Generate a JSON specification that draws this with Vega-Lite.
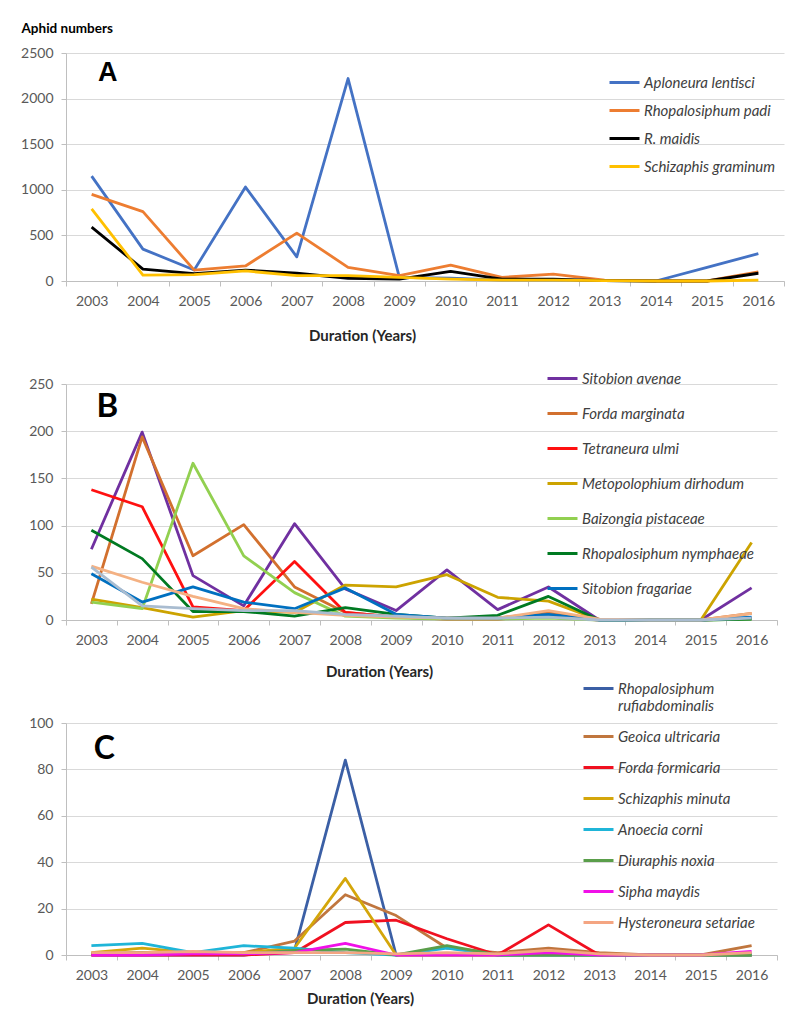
{
  "$schema": "https://vega.github.io/schema/vega-lite/v6.json",
  "background": "white",
  "padding": {"left": 20, "top": 21, "right": 5, "bottom": 5},
  "bounds": "flush",
  "spacing": 103,
  "resolve": {"scale": {"color": "independent", "x": "independent", "y": "independent"}, "legend": {"color": "independent"}},
  "config": {
    "font": "Lato",
    "view": {"stroke": null},
    "axis": {"gridColor": "#D9D9D9", "domainColor": "#BFBFBF", "tickColor": "#BFBFBF", "labelColor": "#595959", "labelFont": "Lato", "labelFontSize": 14, "tickSize": 5, "labelPadding": 8, "titleFont": "Lato", "titleFontWeight": "bold", "titleColor": "#262626"},
    "axisX": {"grid": false, "labelAngle": 0, "tickBand": "extent", "titleFontSize": 15, "titleBaseline": "middle", "titleAlign": "center"},
    "axisY": {"labelPadding": 8, "format": "d"},
    "legend": {"orient": "none", "title": null, "labelFont": "Lato", "labelFontStyle": "italic", "labelFontSize": 15, "labelColor": "#404040", "symbolType": "M-1,0H1", "symbolStrokeWidth": 3, "symbolSize": 900, "symbolFillColor": "transparent", "labelOffset": 3, "labelLimit": 300}
  },
  "datasets": {
    "a": [
      {"year": "2003", "species": "Aploneura lentisci", "n": 1150},
      {"year": "2004", "species": "Aploneura lentisci", "n": 350},
      {"year": "2005", "species": "Aploneura lentisci", "n": 120},
      {"year": "2006", "species": "Aploneura lentisci", "n": 1030},
      {"year": "2007", "species": "Aploneura lentisci", "n": 265},
      {"year": "2008", "species": "Aploneura lentisci", "n": 2220},
      {"year": "2009", "species": "Aploneura lentisci", "n": 40},
      {"year": "2010", "species": "Aploneura lentisci", "n": 30},
      {"year": "2011", "species": "Aploneura lentisci", "n": 10},
      {"year": "2012", "species": "Aploneura lentisci", "n": 10},
      {"year": "2013", "species": "Aploneura lentisci", "n": 5},
      {"year": "2014", "species": "Aploneura lentisci", "n": 0},
      {"year": "2015", "species": "Aploneura lentisci", "n": 150},
      {"year": "2016", "species": "Aploneura lentisci", "n": 300},
      {"year": "2003", "species": "Rhopalosiphum padi", "n": 950},
      {"year": "2004", "species": "Rhopalosiphum padi", "n": 760},
      {"year": "2005", "species": "Rhopalosiphum padi", "n": 120},
      {"year": "2006", "species": "Rhopalosiphum padi", "n": 165},
      {"year": "2007", "species": "Rhopalosiphum padi", "n": 525},
      {"year": "2008", "species": "Rhopalosiphum padi", "n": 150},
      {"year": "2009", "species": "Rhopalosiphum padi", "n": 60},
      {"year": "2010", "species": "Rhopalosiphum padi", "n": 175},
      {"year": "2011", "species": "Rhopalosiphum padi", "n": 40},
      {"year": "2012", "species": "Rhopalosiphum padi", "n": 75},
      {"year": "2013", "species": "Rhopalosiphum padi", "n": 10},
      {"year": "2014", "species": "Rhopalosiphum padi", "n": 0},
      {"year": "2015", "species": "Rhopalosiphum padi", "n": 0},
      {"year": "2016", "species": "Rhopalosiphum padi", "n": 100},
      {"year": "2003", "species": "R. maidis", "n": 590},
      {"year": "2004", "species": "R. maidis", "n": 130},
      {"year": "2005", "species": "R. maidis", "n": 80},
      {"year": "2006", "species": "R. maidis", "n": 120},
      {"year": "2007", "species": "R. maidis", "n": 85},
      {"year": "2008", "species": "R. maidis", "n": 30},
      {"year": "2009", "species": "R. maidis", "n": 20},
      {"year": "2010", "species": "R. maidis", "n": 105},
      {"year": "2011", "species": "R. maidis", "n": 20},
      {"year": "2012", "species": "R. maidis", "n": 20},
      {"year": "2013", "species": "R. maidis", "n": 5},
      {"year": "2014", "species": "R. maidis", "n": 0},
      {"year": "2015", "species": "R. maidis", "n": 0},
      {"year": "2016", "species": "R. maidis", "n": 85},
      {"year": "2003", "species": "Schizaphis graminum", "n": 790},
      {"year": "2004", "species": "Schizaphis graminum", "n": 65},
      {"year": "2005", "species": "Schizaphis graminum", "n": 70},
      {"year": "2006", "species": "Schizaphis graminum", "n": 110},
      {"year": "2007", "species": "Schizaphis graminum", "n": 60},
      {"year": "2008", "species": "Schizaphis graminum", "n": 60},
      {"year": "2009", "species": "Schizaphis graminum", "n": 40},
      {"year": "2010", "species": "Schizaphis graminum", "n": 20},
      {"year": "2011", "species": "Schizaphis graminum", "n": 10},
      {"year": "2012", "species": "Schizaphis graminum", "n": 10},
      {"year": "2013", "species": "Schizaphis graminum", "n": 5},
      {"year": "2014", "species": "Schizaphis graminum", "n": 0},
      {"year": "2015", "species": "Schizaphis graminum", "n": 0},
      {"year": "2016", "species": "Schizaphis graminum", "n": 10}
    ],
    "b": [
      {"year": "2003", "species": "Sitobion avenae", "n": 75},
      {"year": "2004", "species": "Sitobion avenae", "n": 199},
      {"year": "2005", "species": "Sitobion avenae", "n": 47},
      {"year": "2006", "species": "Sitobion avenae", "n": 15},
      {"year": "2007", "species": "Sitobion avenae", "n": 102},
      {"year": "2008", "species": "Sitobion avenae", "n": 33},
      {"year": "2009", "species": "Sitobion avenae", "n": 10},
      {"year": "2010", "species": "Sitobion avenae", "n": 53},
      {"year": "2011", "species": "Sitobion avenae", "n": 11},
      {"year": "2012", "species": "Sitobion avenae", "n": 35},
      {"year": "2013", "species": "Sitobion avenae", "n": 0},
      {"year": "2014", "species": "Sitobion avenae", "n": 0},
      {"year": "2015", "species": "Sitobion avenae", "n": 0},
      {"year": "2016", "species": "Sitobion avenae", "n": 34},
      {"year": "2003", "species": "Forda marginata", "n": 17},
      {"year": "2004", "species": "Forda marginata", "n": 194},
      {"year": "2005", "species": "Forda marginata", "n": 68},
      {"year": "2006", "species": "Forda marginata", "n": 101},
      {"year": "2007", "species": "Forda marginata", "n": 35},
      {"year": "2008", "species": "Forda marginata", "n": 8},
      {"year": "2009", "species": "Forda marginata", "n": 3},
      {"year": "2010", "species": "Forda marginata", "n": 2},
      {"year": "2011", "species": "Forda marginata", "n": 2},
      {"year": "2012", "species": "Forda marginata", "n": 8},
      {"year": "2013", "species": "Forda marginata", "n": 1},
      {"year": "2014", "species": "Forda marginata", "n": 0},
      {"year": "2015", "species": "Forda marginata", "n": 0},
      {"year": "2016", "species": "Forda marginata", "n": 7},
      {"year": "2003", "species": "Tetraneura ulmi", "n": 138},
      {"year": "2004", "species": "Tetraneura ulmi", "n": 120},
      {"year": "2005", "species": "Tetraneura ulmi", "n": 14},
      {"year": "2006", "species": "Tetraneura ulmi", "n": 10},
      {"year": "2007", "species": "Tetraneura ulmi", "n": 62},
      {"year": "2008", "species": "Tetraneura ulmi", "n": 8},
      {"year": "2009", "species": "Tetraneura ulmi", "n": 3},
      {"year": "2010", "species": "Tetraneura ulmi", "n": 1},
      {"year": "2011", "species": "Tetraneura ulmi", "n": 1},
      {"year": "2012", "species": "Tetraneura ulmi", "n": 4},
      {"year": "2013", "species": "Tetraneura ulmi", "n": 0},
      {"year": "2014", "species": "Tetraneura ulmi", "n": 0},
      {"year": "2015", "species": "Tetraneura ulmi", "n": 0},
      {"year": "2016", "species": "Tetraneura ulmi", "n": 2},
      {"year": "2003", "species": "Metopolophium dirhodum", "n": 22},
      {"year": "2004", "species": "Metopolophium dirhodum", "n": 13},
      {"year": "2005", "species": "Metopolophium dirhodum", "n": 3},
      {"year": "2006", "species": "Metopolophium dirhodum", "n": 10},
      {"year": "2007", "species": "Metopolophium dirhodum", "n": 8},
      {"year": "2008", "species": "Metopolophium dirhodum", "n": 37},
      {"year": "2009", "species": "Metopolophium dirhodum", "n": 35},
      {"year": "2010", "species": "Metopolophium dirhodum", "n": 48},
      {"year": "2011", "species": "Metopolophium dirhodum", "n": 24},
      {"year": "2012", "species": "Metopolophium dirhodum", "n": 20},
      {"year": "2013", "species": "Metopolophium dirhodum", "n": 0},
      {"year": "2014", "species": "Metopolophium dirhodum", "n": 0},
      {"year": "2015", "species": "Metopolophium dirhodum", "n": 0},
      {"year": "2016", "species": "Metopolophium dirhodum", "n": 82},
      {"year": "2003", "species": "Baizongia pistaceae", "n": 19},
      {"year": "2004", "species": "Baizongia pistaceae", "n": 12},
      {"year": "2005", "species": "Baizongia pistaceae", "n": 166},
      {"year": "2006", "species": "Baizongia pistaceae", "n": 68},
      {"year": "2007", "species": "Baizongia pistaceae", "n": 29},
      {"year": "2008", "species": "Baizongia pistaceae", "n": 4},
      {"year": "2009", "species": "Baizongia pistaceae", "n": 2},
      {"year": "2010", "species": "Baizongia pistaceae", "n": 1},
      {"year": "2011", "species": "Baizongia pistaceae", "n": 1},
      {"year": "2012", "species": "Baizongia pistaceae", "n": 2},
      {"year": "2013", "species": "Baizongia pistaceae", "n": 0},
      {"year": "2014", "species": "Baizongia pistaceae", "n": 0},
      {"year": "2015", "species": "Baizongia pistaceae", "n": 0},
      {"year": "2016", "species": "Baizongia pistaceae", "n": 1},
      {"year": "2003", "species": "Rhopalosiphum nymphaeae", "n": 95},
      {"year": "2004", "species": "Rhopalosiphum nymphaeae", "n": 65},
      {"year": "2005", "species": "Rhopalosiphum nymphaeae", "n": 9},
      {"year": "2006", "species": "Rhopalosiphum nymphaeae", "n": 9},
      {"year": "2007", "species": "Rhopalosiphum nymphaeae", "n": 4},
      {"year": "2008", "species": "Rhopalosiphum nymphaeae", "n": 13},
      {"year": "2009", "species": "Rhopalosiphum nymphaeae", "n": 6},
      {"year": "2010", "species": "Rhopalosiphum nymphaeae", "n": 2},
      {"year": "2011", "species": "Rhopalosiphum nymphaeae", "n": 5},
      {"year": "2012", "species": "Rhopalosiphum nymphaeae", "n": 25},
      {"year": "2013", "species": "Rhopalosiphum nymphaeae", "n": 0},
      {"year": "2014", "species": "Rhopalosiphum nymphaeae", "n": 0},
      {"year": "2015", "species": "Rhopalosiphum nymphaeae", "n": 0},
      {"year": "2016", "species": "Rhopalosiphum nymphaeae", "n": 1},
      {"year": "2003", "species": "Sitobion fragariae", "n": 49},
      {"year": "2004", "species": "Sitobion fragariae", "n": 19},
      {"year": "2005", "species": "Sitobion fragariae", "n": 35},
      {"year": "2006", "species": "Sitobion fragariae", "n": 19},
      {"year": "2007", "species": "Sitobion fragariae", "n": 12},
      {"year": "2008", "species": "Sitobion fragariae", "n": 34},
      {"year": "2009", "species": "Sitobion fragariae", "n": 6},
      {"year": "2010", "species": "Sitobion fragariae", "n": 2},
      {"year": "2011", "species": "Sitobion fragariae", "n": 2},
      {"year": "2012", "species": "Sitobion fragariae", "n": 6},
      {"year": "2013", "species": "Sitobion fragariae", "n": 0},
      {"year": "2014", "species": "Sitobion fragariae", "n": 0},
      {"year": "2015", "species": "Sitobion fragariae", "n": 0},
      {"year": "2016", "species": "Sitobion fragariae", "n": 3},
      {"year": "2003", "species": "Series 8", "n": 57},
      {"year": "2004", "species": "Series 8", "n": 40},
      {"year": "2005", "species": "Series 8", "n": 25},
      {"year": "2006", "species": "Series 8", "n": 12},
      {"year": "2007", "species": "Series 8", "n": 8},
      {"year": "2008", "species": "Series 8", "n": 5},
      {"year": "2009", "species": "Series 8", "n": 3},
      {"year": "2010", "species": "Series 8", "n": 2},
      {"year": "2011", "species": "Series 8", "n": 2},
      {"year": "2012", "species": "Series 8", "n": 10},
      {"year": "2013", "species": "Series 8", "n": 1},
      {"year": "2014", "species": "Series 8", "n": 0},
      {"year": "2015", "species": "Series 8", "n": 0},
      {"year": "2016", "species": "Series 8", "n": 7},
      {"year": "2003", "species": "Series 9", "n": 56},
      {"year": "2004", "species": "Series 9", "n": 15},
      {"year": "2005", "species": "Series 9", "n": 12},
      {"year": "2006", "species": "Series 9", "n": 10},
      {"year": "2007", "species": "Series 9", "n": 10},
      {"year": "2008", "species": "Series 9", "n": 6},
      {"year": "2009", "species": "Series 9", "n": 4},
      {"year": "2010", "species": "Series 9", "n": 2},
      {"year": "2011", "species": "Series 9", "n": 2},
      {"year": "2012", "species": "Series 9", "n": 3},
      {"year": "2013", "species": "Series 9", "n": 0},
      {"year": "2014", "species": "Series 9", "n": 0},
      {"year": "2015", "species": "Series 9", "n": 0},
      {"year": "2016", "species": "Series 9", "n": 2}
    ],
    "c": [
      {"year": "2003", "species": "Rhopalosiphum rufiabdominalis", "n": 0},
      {"year": "2004", "species": "Rhopalosiphum rufiabdominalis", "n": 0},
      {"year": "2005", "species": "Rhopalosiphum rufiabdominalis", "n": 0},
      {"year": "2006", "species": "Rhopalosiphum rufiabdominalis", "n": 0},
      {"year": "2007", "species": "Rhopalosiphum rufiabdominalis", "n": 2},
      {"year": "2008", "species": "Rhopalosiphum rufiabdominalis", "n": 84},
      {"year": "2009", "species": "Rhopalosiphum rufiabdominalis", "n": 0},
      {"year": "2010", "species": "Rhopalosiphum rufiabdominalis", "n": 0},
      {"year": "2011", "species": "Rhopalosiphum rufiabdominalis", "n": 0},
      {"year": "2012", "species": "Rhopalosiphum rufiabdominalis", "n": 0},
      {"year": "2013", "species": "Rhopalosiphum rufiabdominalis", "n": 0},
      {"year": "2014", "species": "Rhopalosiphum rufiabdominalis", "n": 0},
      {"year": "2015", "species": "Rhopalosiphum rufiabdominalis", "n": 0},
      {"year": "2016", "species": "Rhopalosiphum rufiabdominalis", "n": 0},
      {"year": "2003", "species": "Geoica ultricaria", "n": 0.5},
      {"year": "2004", "species": "Geoica ultricaria", "n": 1},
      {"year": "2005", "species": "Geoica ultricaria", "n": 1},
      {"year": "2006", "species": "Geoica ultricaria", "n": 1},
      {"year": "2007", "species": "Geoica ultricaria", "n": 6},
      {"year": "2008", "species": "Geoica ultricaria", "n": 26},
      {"year": "2009", "species": "Geoica ultricaria", "n": 17},
      {"year": "2010", "species": "Geoica ultricaria", "n": 3},
      {"year": "2011", "species": "Geoica ultricaria", "n": 1},
      {"year": "2012", "species": "Geoica ultricaria", "n": 3},
      {"year": "2013", "species": "Geoica ultricaria", "n": 1},
      {"year": "2014", "species": "Geoica ultricaria", "n": 0},
      {"year": "2015", "species": "Geoica ultricaria", "n": 0},
      {"year": "2016", "species": "Geoica ultricaria", "n": 4},
      {"year": "2003", "species": "Forda formicaria", "n": 0},
      {"year": "2004", "species": "Forda formicaria", "n": 0},
      {"year": "2005", "species": "Forda formicaria", "n": 0},
      {"year": "2006", "species": "Forda formicaria", "n": 0},
      {"year": "2007", "species": "Forda formicaria", "n": 1},
      {"year": "2008", "species": "Forda formicaria", "n": 14},
      {"year": "2009", "species": "Forda formicaria", "n": 15},
      {"year": "2010", "species": "Forda formicaria", "n": 7},
      {"year": "2011", "species": "Forda formicaria", "n": 0},
      {"year": "2012", "species": "Forda formicaria", "n": 13},
      {"year": "2013", "species": "Forda formicaria", "n": 0},
      {"year": "2014", "species": "Forda formicaria", "n": 0},
      {"year": "2015", "species": "Forda formicaria", "n": 0},
      {"year": "2016", "species": "Forda formicaria", "n": 0},
      {"year": "2003", "species": "Schizaphis minuta", "n": 1},
      {"year": "2004", "species": "Schizaphis minuta", "n": 3},
      {"year": "2005", "species": "Schizaphis minuta", "n": 1},
      {"year": "2006", "species": "Schizaphis minuta", "n": 1},
      {"year": "2007", "species": "Schizaphis minuta", "n": 3},
      {"year": "2008", "species": "Schizaphis minuta", "n": 33},
      {"year": "2009", "species": "Schizaphis minuta", "n": 0},
      {"year": "2010", "species": "Schizaphis minuta", "n": 0},
      {"year": "2011", "species": "Schizaphis minuta", "n": 0},
      {"year": "2012", "species": "Schizaphis minuta", "n": 0},
      {"year": "2013", "species": "Schizaphis minuta", "n": 0},
      {"year": "2014", "species": "Schizaphis minuta", "n": 0},
      {"year": "2015", "species": "Schizaphis minuta", "n": 0},
      {"year": "2016", "species": "Schizaphis minuta", "n": 0},
      {"year": "2003", "species": "Anoecia corni", "n": 4},
      {"year": "2004", "species": "Anoecia corni", "n": 5},
      {"year": "2005", "species": "Anoecia corni", "n": 1},
      {"year": "2006", "species": "Anoecia corni", "n": 4},
      {"year": "2007", "species": "Anoecia corni", "n": 3},
      {"year": "2008", "species": "Anoecia corni", "n": 1},
      {"year": "2009", "species": "Anoecia corni", "n": 0},
      {"year": "2010", "species": "Anoecia corni", "n": 3},
      {"year": "2011", "species": "Anoecia corni", "n": 0},
      {"year": "2012", "species": "Anoecia corni", "n": 0},
      {"year": "2013", "species": "Anoecia corni", "n": 0},
      {"year": "2014", "species": "Anoecia corni", "n": 0},
      {"year": "2015", "species": "Anoecia corni", "n": 0},
      {"year": "2016", "species": "Anoecia corni", "n": 0},
      {"year": "2003", "species": "Diuraphis noxia", "n": 0.5},
      {"year": "2004", "species": "Diuraphis noxia", "n": 1},
      {"year": "2005", "species": "Diuraphis noxia", "n": 1},
      {"year": "2006", "species": "Diuraphis noxia", "n": 0.5},
      {"year": "2007", "species": "Diuraphis noxia", "n": 2},
      {"year": "2008", "species": "Diuraphis noxia", "n": 2.5},
      {"year": "2009", "species": "Diuraphis noxia", "n": 0},
      {"year": "2010", "species": "Diuraphis noxia", "n": 4},
      {"year": "2011", "species": "Diuraphis noxia", "n": 0},
      {"year": "2012", "species": "Diuraphis noxia", "n": 0},
      {"year": "2013", "species": "Diuraphis noxia", "n": 0},
      {"year": "2014", "species": "Diuraphis noxia", "n": 0},
      {"year": "2015", "species": "Diuraphis noxia", "n": 0},
      {"year": "2016", "species": "Diuraphis noxia", "n": 0},
      {"year": "2003", "species": "Sipha maydis", "n": 0},
      {"year": "2004", "species": "Sipha maydis", "n": 0},
      {"year": "2005", "species": "Sipha maydis", "n": 0.5},
      {"year": "2006", "species": "Sipha maydis", "n": 0.5},
      {"year": "2007", "species": "Sipha maydis", "n": 1},
      {"year": "2008", "species": "Sipha maydis", "n": 5},
      {"year": "2009", "species": "Sipha maydis", "n": 0},
      {"year": "2010", "species": "Sipha maydis", "n": 0},
      {"year": "2011", "species": "Sipha maydis", "n": 0},
      {"year": "2012", "species": "Sipha maydis", "n": 1},
      {"year": "2013", "species": "Sipha maydis", "n": 0},
      {"year": "2014", "species": "Sipha maydis", "n": 0},
      {"year": "2015", "species": "Sipha maydis", "n": 0},
      {"year": "2016", "species": "Sipha maydis", "n": 1.5},
      {"year": "2003", "species": "Hysteroneura setariae", "n": 1},
      {"year": "2004", "species": "Hysteroneura setariae", "n": 1},
      {"year": "2005", "species": "Hysteroneura setariae", "n": 1.5},
      {"year": "2006", "species": "Hysteroneura setariae", "n": 1},
      {"year": "2007", "species": "Hysteroneura setariae", "n": 1},
      {"year": "2008", "species": "Hysteroneura setariae", "n": 1},
      {"year": "2009", "species": "Hysteroneura setariae", "n": 0.5},
      {"year": "2010", "species": "Hysteroneura setariae", "n": 1},
      {"year": "2011", "species": "Hysteroneura setariae", "n": 0.5},
      {"year": "2012", "species": "Hysteroneura setariae", "n": 2},
      {"year": "2013", "species": "Hysteroneura setariae", "n": 0.5},
      {"year": "2014", "species": "Hysteroneura setariae", "n": 0},
      {"year": "2015", "species": "Hysteroneura setariae", "n": 0},
      {"year": "2016", "species": "Hysteroneura setariae", "n": 1}
    ]
  },
  "vconcat": [
    {
      "width": 718,
      "height": 228,
      "layer": [
        {
          "data": {"name": "a"},
          "mark": {"type": "line", "strokeWidth": 2.8, "strokeJoin": "round"},
          "encoding": {
            "x": {"field": "year", "type": "ordinal", "bandPosition": 0.5, "scale": {"type": "band", "paddingInner": 0, "paddingOuter": 0}, "axis": {"title": "Duration (Years)", "titleX": 296, "titleY": 54}},
            "y": {"field": "n", "type": "quantitative", "scale": {"domain": [0, 2500], "nice": false}, "axis": {"values": [0, 500, 1000, 1500, 2000, 2500], "title": "Aphid numbers", "titleAngle": 0, "titleAlign": "left", "titleBaseline": "middle", "titleX": -45, "titleY": -25, "titleFontSize": 13.5, "titleColor": "#000000"}},
            "color": {"field": "species", "type": "nominal", "sort": null, "scale": {"domain": ["Aploneura lentisci", "Rhopalosiphum padi", "R. maidis", "Schizaphis graminum"], "range": ["#4472C4", "#ED7D31", "#000000", "#FFC000"]}, "legend": {"legendX": 542, "legendY": 13, "rowPadding": 3}}
          }
        },
        {
          "data": {"values": [{"label": "A"}]},
          "mark": {"type": "text", "fontSize": 27, "fontWeight": "bold", "font": "Liberation Sans", "align": "center", "baseline": "middle", "dx": 16, "color": "#000000"},
          "encoding": {"x": {"datum": "2003"}, "y": {"datum": 2281}, "text": {"field": "label"}}
        }
      ]
    },
    {
      "width": 711,
      "height": 236,
      "layer": [
        {
          "data": {"name": "b"},
          "mark": {"type": "line", "strokeWidth": 2.8, "strokeJoin": "round"},
          "encoding": {
            "x": {"field": "year", "type": "ordinal", "bandPosition": 0.5, "scale": {"type": "band", "paddingInner": 0, "paddingOuter": 0}, "axis": {"title": "Duration (Years)", "titleX": 313, "titleY": 51}},
            "y": {"field": "n", "type": "quantitative", "scale": {"domain": [0, 250], "nice": false}, "axis": {"values": [0, 50, 100, 150, 200, 250], "title": null}},
            "color": {"field": "species", "type": "nominal", "sort": null, "scale": {"domain": ["Sitobion avenae", "Forda marginata", "Tetraneura ulmi", "Metopolophium dirhodum", "Baizongia pistaceae", "Rhopalosiphum nymphaeae", "Sitobion fragariae", "Series 8", "Series 9"], "range": ["#7030A0", "#D2702E", "#FF1010", "#CCA300", "#92D050", "#007A22", "#0070C0", "#F4B183", "#A9BCD0"]}, "legend": {"legendX": 480, "legendY": -22, "rowPadding": 10, "values": ["Sitobion avenae", "Forda marginata", "Tetraneura ulmi", "Metopolophium dirhodum", "Baizongia pistaceae", "Rhopalosiphum nymphaeae", "Sitobion fragariae"]}}
          }
        },
        {
          "data": {"values": [{"label": "B"}]},
          "mark": {"type": "text", "fontSize": 33, "fontWeight": "bold", "font": "Lato", "align": "center", "baseline": "middle", "dx": 16, "color": "#000000"},
          "encoding": {"x": {"datum": "2003"}, "y": {"datum": 226}, "text": {"field": "label"}}
        }
      ]
    },
    {
      "width": 711,
      "height": 232,
      "layer": [
        {
          "data": {"name": "c"},
          "mark": {"type": "line", "strokeWidth": 2.8, "strokeJoin": "round"},
          "encoding": {
            "x": {"field": "year", "type": "ordinal", "bandPosition": 0.5, "scale": {"type": "band", "paddingInner": 0, "paddingOuter": 0}, "axis": {"title": "Duration (Years)", "titleX": 294, "titleY": 43}},
            "y": {"field": "n", "type": "quantitative", "scale": {"domain": [0, 100], "nice": false}, "axis": {"values": [0, 20, 40, 60, 80, 100], "title": null}},
            "color": {"field": "species", "type": "nominal", "sort": null, "scale": {"domain": ["Rhopalosiphum rufiabdominalis", "Geoica ultricaria", "Forda formicaria", "Schizaphis minuta", "Anoecia corni", "Diuraphis noxia", "Sipha maydis", "Hysteroneura setariae"], "range": ["#3B5FA5", "#C0763E", "#F01020", "#D4A60A", "#1FB5D8", "#5A9E4A", "#F010E8", "#F4A582"]}, "legend": {"legendX": 516, "legendY": -51, "rowPadding": 6, "labelExpr": "datum.label == 'Rhopalosiphum rufiabdominalis' ? ['Rhopalosiphum', 'rufiabdominalis'] : datum.label"}}
          }
        },
        {
          "data": {"values": [{"label": "C"}]},
          "mark": {"type": "text", "fontSize": 32, "fontWeight": "bold", "font": "Lato", "align": "center", "baseline": "middle", "dx": 13, "color": "#000000"},
          "encoding": {"x": {"datum": "2003"}, "y": {"datum": 89}, "text": {"field": "label"}}
        }
      ]
    }
  ]
}
